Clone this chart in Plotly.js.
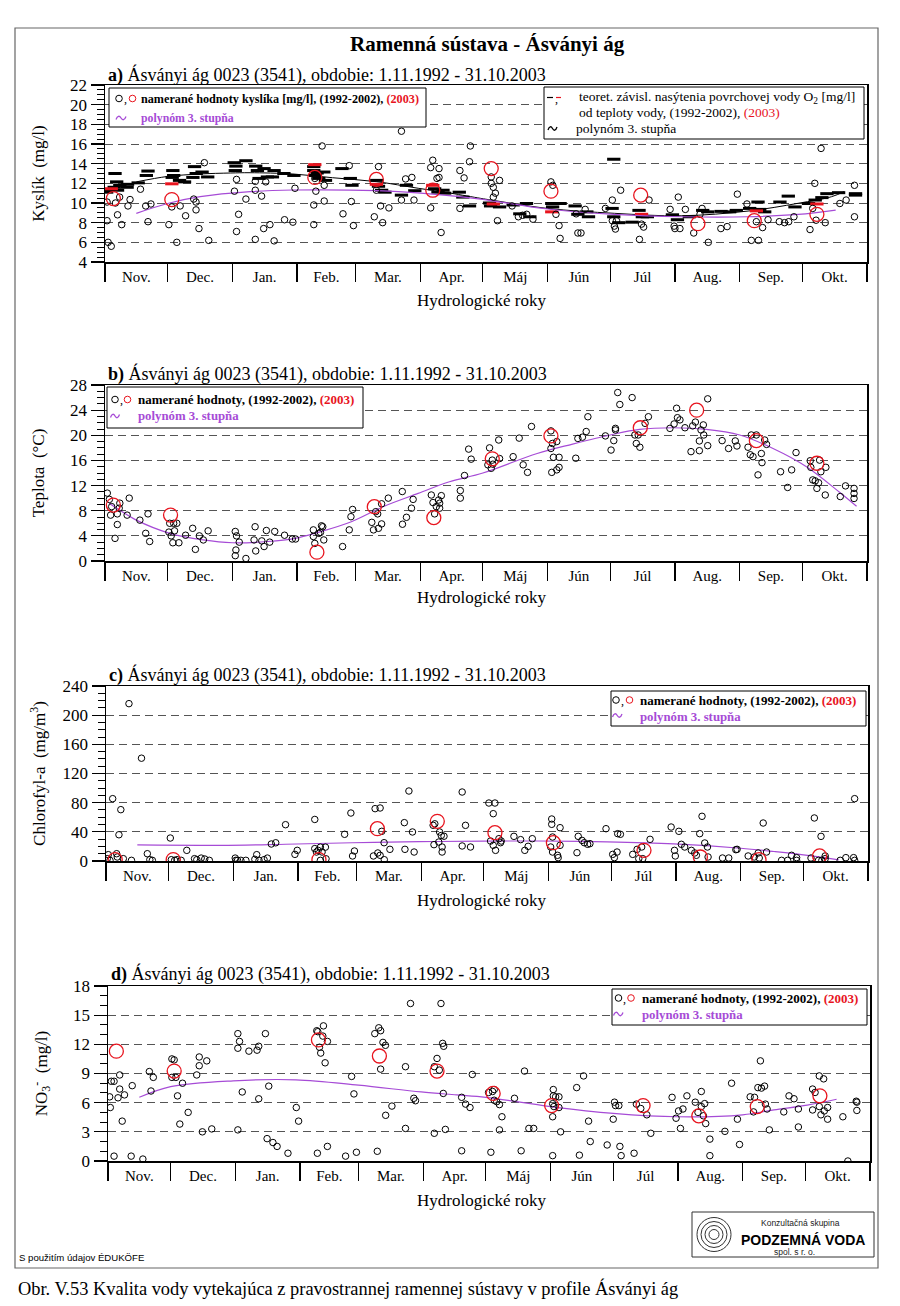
<!DOCTYPE html>
<html><head><meta charset="utf-8">
<script src="https://cdn.plot.ly/plotly-3.0.1.min.js"></script>
<style>html,body{margin:0;padding:0;background:#fff}</style>
</head><body><div id="chart" style="width:900px;height:1306px"></div>
<script>
// ---------- DATA ----------
const monthLabels = ['Nov.','Dec.','Jan.','Feb.','Mar.','Apr.','Máj','Jún','Júl','Aug.','Sep.','Okt.'];
const monthStart = [0,30,61,92,120,151,181,212,242,273,304,334,365];

// a) Kyslík  [day of hydrological year, mg/l]
const oxyMeasured = [[1,8.2],[1.5,6.0],[3,5.6],[1,10.1],[5,10.0],[6,8.8],[7,10.6],[8,7.8],[11,9.7],[12,10.35],[17,11.4],[19.5,9.7],[20.6,8.1],[22,9.9],[30.6,7.8],[32,9.6],[34.4,6.0],[36,9.7],[38.6,8.7],[42.5,10.4],[43.6,9.3],[43.6,10.1],[45,7.4],[47.6,14.1],[49.7,6.2],[62,11.2],[63,7.1],[63,12.4],[64,8.85],[67.5,10.4],[72,11.3],[72,12.2],[72,6.3],[75,10.7],[76,7.4],[77,12.15],[79,7.8],[81,6.15],[86,8.3],[90,8.05],[91,11.5],[100,7.8],[100,9.8],[101,11.2],[100.5,12.5],[104,15.8],[105,11.8],[105,10.2],[114,8.9],[117,13.8],[118,10.15],[119,7.7],[129,8.6],[130,11.3],[131,13.7],[132,9.7],[133,8.0],[136,9.5],[142,17.3],[142,10.3],[144,12.45],[147,12.6],[148,10.3],[156,9.5],[157,14.35],[156,13.6],[159,12.5],[160,13.5],[160,12.6],[161,7.0],[170,13.3],[172,12.55],[174.6,14.2],[175,15.8],[170,9.45],[185,12.65],[185,12.0],[186,11.6],[187,11.0],[186,10.6],[189,12.3],[188,8.2],[195,9.7],[198,8.6],[200,8.75],[202,8.85],[205,8.35],[213.6,12.15],[214.5,11.8],[216,8.85],[217.5,7.7],[218,6.4],[225.7,8.9],[226.5,6.95],[228,6.95],[230,9.35],[239.7,9.45],[243,10.3],[243,8.2],[244,7.65],[244.5,7.35],[247,11.3],[245,8.2],[256,6.3],[257,7.85],[258,7.55],[260.6,10.3],[270.7,9.35],[272.6,7.65],[273,7.4],[275.4,7.4],[274.6,10.6],[278,9.35],[282,6.95],[285,8.85],[286,9.45],[289,6.0],[295,7.4],[298,7.6],[302.9,10.9],[307.5,9.9],[309.6,6.2],[313,6.2],[312,8.1],[315,7.5],[317.6,8.3],[323,8.1],[325.5,8.0],[327.5,8.1],[330,8.6],[337.7,7.3],[339,9.45],[340,12.0],[340.6,8.25],[343,15.55],[345,8.0],[352,9.95],[355,10.3],[359,11.8],[359,8.6]];
const oxyMeasured2003 = [[4,10.45],[32,10.35],[100.5,12.6],[130,12.4],[157,11.3],[185,13.5],[213.6,11.2],[256.6,10.8],[284,7.9],[311,8.2],[341,8.85]];
const oxySaturation = [[0.8,11.1],[1.6,11.35],[4.4,11.6],[4.8,13.0],[5.6,12.15],[6,11.3],[7.1,11.8],[10.8,11.9],[10.6,11.6],[15.9,12.05],[19.8,12.8],[20.6,13.25],[32.5,13.3],[32.9,12.8],[32.2,12.6],[35.7,12.3],[38.1,12.15],[42.9,13.7],[43.7,13.0],[42.1,12.6],[46.5,13.15],[49.2,12.65],[61.9,14.1],[62.7,13.75],[62.4,13.3],[67.5,14.3],[72.2,13.75],[73,13.3],[73.8,12.5],[76.2,13.5],[77.8,12.65],[80.2,12.65],[81,13.3],[85.7,13.0],[90.5,12.8],[100,13.7],[100,13.3],[100.8,12.8],[101.6,13.05],[102.4,12.5],[104.8,13.15],[105.6,12.3],[113.5,13.5],[117.5,12.5],[118.3,11.8],[130.2,12.3],[131,11.7],[132.5,11.3],[134.1,11.1],[142,10.8],[144.4,11.8],[148.4,11.25],[157.9,11.45],[159.5,11.1],[161.9,11.3],[162.7,11.0],[169.7,11.1],[171.4,10.6],[174.6,9.7],[184.2,10.0],[184.7,9.7],[189,9.6],[195.5,9.8],[198.7,8.9],[201.9,9.95],[203.5,8.6],[214,9.95],[214.4,9.6],[218,9.95],[225.2,9.7],[226.5,8.85],[230.8,9.1],[231.6,8.6],[242.9,9.45],[243.7,8.6],[243.7,14.45],[246.1,8.0],[252.5,8.05],[255.8,9.25],[257.4,8.6],[259.8,8.6],[271.8,8.8],[274.2,8.3],[279.9,8.6],[286.3,9.25],[288.7,9.1],[295.1,9.15],[299.2,9.1],[302.4,9.25],[308.8,9.45],[312.8,10.1],[313.6,9.35],[316,9.1],[323.3,10.1],[327.3,10.7],[330.5,9.6],[337,9.95],[340.2,10.3],[343.4,10.55],[345.8,10.95],[351.4,11.05],[359.5,10.95],[359.5,10.8]];
const oxySaturation2003 = [[3,11.45],[32,11.95],[100.5,13.9],[130,11.9],[157,11.8],[186,9.9],[214,9.1],[257,8.85],[312,9.2],[341,9.9]];
const oxySatPoly = [[15,12.15],[30,12.7],[45.6,12.95],[60,13.05],[69.5,13.08],[90,12.95],[109,12.57],[130,12.17],[150,11.5],[165.5,11.0],[180,10.47],[185,10.3],[212,9.45],[244,8.95],[276,8.7],[308,9.18],[332,9.97],[348,10.64],[354,11.15]];
const oxyPoly = [[15,8.95],[30,9.95],[45.6,10.64],[69.5,11.15],[90,11.32],[130,11.25],[157,10.9],[180,10.4],[212,9.39],[244,8.84],[276,8.6],[308,8.6],[332,8.84],[350,9.28]];

// b) Teplota [°C]
const tempMeasured = [[1.1,10.8],[2.1,9.8],[3.2,8.65],[2.7,7.3],[4.8,3.6],[5.9,7.5],[5.9,5.8],[6.8,8.4],[7.1,9.2],[10.6,7.3],[11.6,10.0],[16.7,6.5],[19.5,4.4],[20.6,7.5],[21.4,3.1],[30.6,4.6],[31,6.0],[31.7,4.0],[32.9,6.0],[33.3,4.8],[34.4,6.0],[32.5,2.9],[35.4,2.9],[38.6,4.1],[42,5.2],[43.3,1.85],[45.2,4.0],[47.1,3.35],[49.4,4.8],[62.4,4.7],[62.7,1.75],[62.4,0.85],[63,4.0],[64.3,3.0],[67.5,0.4],[71.4,3.35],[71.9,5.45],[72.2,1.6],[75.1,3.2],[76.2,2.3],[77.3,4.85],[78.9,3.0],[81.3,4.7],[86,4.1],[89.7,3.5],[91.3,3.5],[99.8,4.95],[99.8,3.9],[100.5,2.8],[102.4,4.4],[103.2,4.55],[103.7,5.6],[104.3,5.45],[104.8,3.35],[113.8,2.3],[117,4.95],[117.8,7.05],[118.6,8.2],[127.8,6.15],[128.6,4.95],[129.7,7.85],[130.6,7.5],[131,5.2],[132.5,5.9],[132.5,9.1],[135.7,10.0],[142.4,11.05],[142.5,5.85],[144.4,6.95],[146.8,8.4],[147.6,9.8],[156.3,10.5],[157.1,9.3],[157.9,7.5],[158.7,8.65],[159.8,9.7],[160.3,8.4],[161.1,10.4],[160.3,9.2],[170.2,11.2],[170.2,10.0],[172.2,13.6],[174.2,17.8],[175.4,16.2],[184.2,18.0],[183.4,15.3],[185,14.75],[185.5,16.05],[185.8,15.4],[188.6,19.25],[189,16.3],[195.5,16.6],[198.4,19.55],[200.3,15.3],[202.4,14.1],[204.3,21.4],[213.6,20.7],[213.6,17.9],[214.3,18.7],[214.8,16.5],[214,14.1],[216.4,19.0],[216.4,14.5],[217.5,14.9],[217.5,16.5],[225.5,16.35],[226.5,19.5],[228.7,19.7],[230.5,20.6],[231.3,22.95],[239.7,19.9],[242.4,17.65],[243.7,19.15],[244.5,20.85],[244.5,21.1],[245.6,26.8],[246.6,24.9],[252.5,26.0],[253.8,20.05],[254.5,18.7],[255.4,20.05],[256.2,18.1],[258.7,21.9],[260.3,22.95],[270.6,21.1],[272.6,21.8],[273.8,24.3],[274.2,22.8],[275.4,22.45],[277.8,21.2],[280.7,17.4],[281.5,21.5],[282.8,22.1],[284.7,19.1],[284.7,17.55],[285.5,20.85],[286.6,21.65],[286.8,20.05],[288.7,25.8],[288.7,18.35],[295.6,19.15],[298.7,17.9],[301.9,19.1],[302.7,18.3],[308,18.1],[309.1,16.9],[310.4,16.6],[309.6,20.05],[312,20.05],[312.8,13.7],[314.4,17.1],[314.7,15.65],[316,19.25],[316.9,18.55],[323.6,14.2],[327,11.7],[328.9,14.5],[331,17.25],[337.8,15.95],[338.1,14.9],[339,12.9],[340.2,12.75],[341,11.55],[341.8,12.45],[342.3,16.05],[342.9,14.2],[345,10.5],[345.3,14.9],[352.2,10.25],[354.7,11.95],[358.8,11.55],[358.8,10.75],[358.8,9.95]];
const tempMeasured2003 = [[4,8.9],[31.4,7.3],[101.5,1.4],[129,8.65],[157.5,6.9],[185.5,16.25],[213.6,19.9],[256.4,21.2],[283.4,24.0],[312,19.15],[341,15.55]];
const tempPoly = [[2,9.2],[7,8.1],[15,6.5],[31,4.4],[47,3.35],[61,2.9],[78,3.1],[91,3.6],[102,4.55],[118,6.25],[134,8.75],[150,10.75],[165,12.6],[181,14.0],[207,17.1],[224,18.6],[242,20.05],[256,20.95],[272,21.2],[288,20.95],[304,20.05],[320,17.9],[336,15.0],[352,10.9],[360,8.7]];

// c) Chlorofyl-a [mg/m3]
const chlMeasured = [[1.1,8.7],[0.6,3.2],[1.9,0.9],[3.2,85.5],[5.1,10],[5.4,5.5],[6.2,36],[7.1,70.4],[8.3,3.2],[11,215.8],[12.2,0.9],[17,141],[19.8,10],[21,1.8],[22.2,0.9],[30.8,31.5],[31.3,1.8],[32.9,0.9],[34,1.8],[36,0.9],[38.7,14.6],[42.4,3.2],[43.5,1.8],[45.6,4],[47.3,2.7],[49.5,0.9],[61.9,4],[62.2,0.9],[63,0.9],[64.6,0.9],[67,0.9],[71.3,2.3],[72.2,8.7],[73.3,0.9],[75.7,1.8],[77.3,4],[79.2,23.3],[81.3,25],[86,49.8],[90.5,9.1],[91.6,14.6],[100,57],[100,17],[100.8,12.3],[101.6,14.6],[102.7,19],[103.5,12.3],[105.1,19],[102.7,0.9],[105.4,3],[114.3,36.6],[117.3,65.8],[118.1,6.9],[119,13.7],[128.1,6.9],[128.9,71.8],[131.3,72.7],[130.2,11],[131.3,7.8],[132.1,40.7],[133.2,25.1],[133.3,1.8],[136,16],[142.9,52.6],[145.1,96],[146.8,39.8],[147.6,12.3],[143.2,16],[156.7,49],[157.5,51],[157.1,22.4],[159.4,26],[159.8,39.8],[160.6,35],[161.9,34],[161,19.2],[161,12.3],[170.6,94.6],[172.2,48.9],[170.6,20.6],[174.6,19.2],[183.4,79.5],[186.3,79.5],[185.5,64.9],[184.2,27.4],[185.5,21.5],[186.6,14.6],[188.2,30.6],[189,25.1],[189.3,27.4],[195.4,33.8],[198.6,29.3],[200.6,14.6],[202.2,20.1],[204.2,30.6],[213.5,57.6],[213.5,50.3],[213.9,32.9],[213,19.2],[213.9,12.3],[216.3,7.8],[216.6,4.6],[217.5,45.7],[217.5,21.5],[225.6,11.4],[226.2,33.8],[228,28.3],[229.1,25.1],[230.7,22.9],[231.8,23.8],[239.5,44.3],[242.7,9.1],[243.5,4.6],[244.8,12.3],[245.1,37.5],[246.4,36.6],[252.3,9.1],[254.4,16],[255.2,3.2],[256.6,19.2],[257.1,3.2],[260.6,29.7],[270.7,46.6],[274.4,40.7],[275.6,22.9],[277.2,19.2],[272.3,14.6],[272.7,6.9],[280.4,14.6],[282,11],[282.8,7.8],[284.4,37.5],[285.5,61.3],[286.8,24.7],[288.1,19.2],[288.4,5.5],[295.3,4.1],[298.3,4.1],[301.7,15.5],[302.3,16],[307.6,6.9],[310.5,5.5],[312.4,11],[312.9,4.1],[314.8,52.1],[316.4,12.3],[323.6,0.9],[326.5,0.9],[328.4,7.8],[330.8,4.6],[330.8,0.9],[337.7,4.1],[339.3,59],[342.5,33.8],[341.3,0.9],[342.9,0.9],[344.5,3.2],[344.5,6.9],[351.7,0.9],[354.4,4.6],[358.1,4.6],[358.6,0.9],[358.6,85.5]];
const chlMeasured2003 = [[4.4,2],[32.2,2],[102,2],[130,44.3],[158.7,54.4],[186.3,38.9],[214.3,25.1],[257.7,14.6],[284.7,5.5],[312.8,1.8],[341.8,6.9]];
const chlPoly = [[15,22],[55,21.5],[86,23],[118,25],[150,26.5],[181,27.3],[207,27.4],[240,26.3],[272,23.5],[304,17.5],[320,13],[336,7.8],[351,1.5]];

// d) NO3- [mg/l]
const no3Measured = [[0.8,6.6],[1.1,5.5],[1.6,8.2],[2.9,8.2],[2.9,0.5],[4.8,6.5],[5.6,8.85],[5.6,7.4],[6.8,4.1],[7.9,6.8],[11.1,0.5],[11.6,7.75],[16.7,0.2],[19.8,9.2],[20.6,7.2],[21.7,8.6],[30.6,10.5],[31.7,10.4],[30.6,8.6],[32.5,8.6],[33.3,6.7],[34.4,3.8],[35.7,8.0],[38.4,5.0],[42.5,8.85],[43.7,10.7],[43.7,9.8],[45.2,3.0],[47.3,10.3],[49.7,3.3],[62.2,13.1],[63,12.3],[62.2,11.6],[62.2,3.2],[64.3,7.1],[67.5,11.3],[71.4,11.4],[72.2,11.8],[72.2,6.4],[75.4,13.1],[77,7.7],[76.2,2.3],[79,1.9],[81,1.5],[86.2,0.8],[90.2,5.5],[91.3,4.1],[100,13.4],[100.5,13.3],[101.3,11.7],[101.9,11.1],[102.9,12.85],[103.2,13.9],[104,10.1],[105.1,12.3],[100.3,0.8],[105.1,1.5],[113.8,0.5],[116.7,8.7],[117.8,6.9],[119,0.9],[127.8,13.1],[129.7,13.7],[130.6,13.4],[129,1.0],[130.6,9.45],[131.7,12.2],[132.9,11.9],[133,4.7],[136,5.65],[142.5,9.7],[142.5,3.35],[144.9,16.2],[146.5,6.45],[147.3,6.2],[156.3,9.7],[157.6,10.55],[156.3,2.85],[158.7,9.35],[159.5,16.2],[160.3,12.1],[160.8,11.8],[160.6,6.95],[161.6,3.25],[169.4,6.55],[171.3,5.85],[173.4,5.5],[169.4,1.05],[174.5,8.9],[182.3,7.05],[184.2,7.15],[185,7.35],[185,6.25],[186.2,6.1],[187.5,5.8],[188.7,4.55],[187.5,3.2],[183.4,0.9],[194.7,6.45],[197.9,1.05],[199.5,9.25],[201.6,3.35],[203.9,3.35],[213.3,7.35],[213.3,6.7],[214.4,6.6],[216,6.6],[213.6,5.6],[213,5.9],[216,5.5],[213,4.55],[216.8,3.0],[213,0.55],[224.5,7.55],[225.8,0.6],[227.8,8.75],[230.2,4.1],[231,2.0],[239.1,1.65],[242,4.3],[242.6,6.05],[243.1,5.7],[244.7,5.7],[245.2,1.5],[245.8,0.55],[252,0.8],[253.1,5.85],[255.2,5.4],[258.1,4.75],[260,2.85],[270.2,6.55],[272.1,4.4],[273.3,5.15],[275.4,5.35],[277.3,6.7],[274.2,3.35],[281.3,6.05],[282.6,5.0],[284.2,7.15],[284.2,5.6],[285.2,4.65],[285.8,5.9],[286.3,3.85],[288.3,2.25],[288.3,0.55],[295.5,3.05],[298.7,8.0],[301.5,4.3],[302.5,1.7],[307.6,6.6],[309.7,6.55],[309.2,5.05],[311.3,7.55],[312.5,10.3],[313,7.5],[314.5,7.7],[314.9,5.85],[315.7,5.35],[316.8,3.2],[323.7,5.05],[326.2,6.7],[328.6,6.4],[330.7,5.35],[330.7,3.5],[337.5,7.4],[338.7,7.05],[340.7,8.75],[342.8,8.45],[337.5,5.25],[340.7,5.6],[341.5,4.75],[343.1,5.15],[344.7,5.5],[344.7,4.3],[352,4.55],[354.4,0],[358.4,6.15],[358.7,6.05],[358.7,5.2]];
const no3Measured2003 = [[4,11.3],[31.7,9.25],[100.8,12.45],[130,10.8],[157.6,9.25],[184.5,6.95],[212.5,5.7],[256.3,5.7],[283,4.65],[311,5.6],[341,6.7]];
const no3Poly = [[15,6.55],[30,7.65],[60,8.25],[90,8.35],[120,7.8],[150,7.1],[167,6.8],[181,6.55],[212,5.6],[242,4.9],[273,4.55],[304,4.75],[319,5.25],[335,5.75],[349,6.35]];

// ---------- LAYOUT HELPERS ----------
const W = 900, H = 1306;
const X = v => v / W, Y = v => 1 - v / H;
const SERIF = 'Liberation Serif, Times New Roman, serif';
const SANS = 'Liberation Sans, Arial, sans-serif';
const PURPLE = '#a64bd6';
const RED = '#e8141e';
const xs = a => a.map(p => p[0]);
const ys = a => a.map(p => p[1]);
const monthMid = monthLabels.map((m, i) => (monthStart[i] + monthStart[i + 1]) / 2);

const panels = [
  {box: [105, 867, 85, 262], range: [4, 22], dtick: 2, minor: 0.5, letter: 'a)', ytitle: 'Kyslík  (mg/l)', titleY: 75, hydroY: 300, ystand: 21},
  {box: [105, 867, 385, 561], range: [0, 28], dtick: 4, minor: 1, letter: 'b)', ytitle: 'Teplota  (°C)', titleY: 374, hydroY: 598, ystand: 21},
  {box: [106, 868, 686, 861], range: [0, 240], dtick: 40, minor: 10, letter: 'c)', ytitle: 'Chlorofyl-a  (mg/m<sup>3</sup>)', titleY: 675, hydroY: 900, ystand: 12},
  {box: [108, 870, 986, 1161], range: [0, 18], dtick: 3, minor: 1, letter: 'd)', ytitle: 'NO<sub>3</sub><sup>-</sup>  (mg/l)', titleY: 974, hydroY: 1200, ystand: 21}
];

const layout = {
  width: W, height: H, margin: {l: 0, r: 0, t: 0, b: 0},
  paper_bgcolor: 'white', plot_bgcolor: 'white', showlegend: false,
  shapes: [], annotations: []
};
function txt(x, y, text, o = {}) {
  layout.annotations.push({xref: 'paper', yref: 'paper', x: X(x), y: Y(y), text, showarrow: false,
    xanchor: o.xa || 'left', yanchor: 'middle', textangle: o.angle || 0,
    font: {family: o.family || SERIF, size: o.size || 12, color: o.color || 'black'}});
}
function rect(x0, y0, x1, y1, o = {}) {
  layout.shapes.push({type: o.type || 'rect', xref: 'paper', yref: 'paper', x0: X(x0), x1: X(x1), y0: Y(y0), y1: Y(y1),
    line: {color: o.color || 'black', width: o.width || 1}, fillcolor: o.fill || 'rgba(0,0,0,0)', layer: 'above'});
}
function seg(x0, x1, y, color, w) {
  layout.shapes.push({type: 'line', xref: 'paper', yref: 'paper', x0: X(x0), x1: X(x1), y0: Y(y), y1: Y(y),
    line: {color, width: w}, layer: 'above'});
}
function tilde(x0, x1, y, color) {
  const w = x1 - x0;
  const P = (a, b) => X(a) + ',' + Y(b);
  layout.shapes.push({type: 'path', xref: 'paper', yref: 'paper', layer: 'above', line: {color, width: 1.3},
    path: 'M' + P(x0, y + 1.5) + ' C' + P(x0 + w * 0.15, y - 2.5) + ' ' + P(x0 + w * 0.35, y - 2.5) + ' ' + P(x0 + w * 0.5, y) +
          ' S' + P(x0 + w * 0.85, y + 2.5) + ' ' + P(x1, y - 1.5)});
}
function legendCircles(xBlack, xRed, y) {
  rect(xBlack - 3.3, y - 3.3, xBlack + 3.3, y + 3.3, {type: 'circle', color: 'black', width: 1});
  txt(xBlack + 2.5, y + 1, ',', {size: 12});
  rect(xRed - 3.3, y - 3.3, xRed + 3.3, y + 3.3, {type: 'circle', color: RED, width: 1});
}

const traces = [];
panels.forEach((p, i) => {
  const n = i === 0 ? '' : String(i + 1);
  const [l, r, t, b] = p.box;
  layout['xaxis' + n] = {
    domain: [X(l), X(r)], range: [0, 365], anchor: 'y' + n,
    showline: true, mirror: true, linecolor: 'black', linewidth: 1.5,
    showgrid: false, zeroline: false, fixedrange: true,
    tickmode: 'array', tickvals: monthMid, ticktext: monthLabels, ticks: '',
    tickfont: {family: SERIF, size: 15, color: 'black'},
    minor: {tickmode: 'array', tickvals: monthStart, ticks: 'outside', ticklen: 18, tickwidth: 1.2, tickcolor: 'black', showgrid: false}
  };
  layout['yaxis' + n] = {
    domain: [Y(b), Y(t)], range: p.range, anchor: 'x' + n,
    showline: true, mirror: true, linecolor: 'black', linewidth: 1.5,
    zeroline: false, fixedrange: true,
    tickmode: 'linear', tick0: 0, dtick: p.dtick, ticks: 'outside', ticklen: 13, tickwidth: 1.2, tickcolor: 'black',
    tickfont: {family: SERIF, size: 17, color: 'black'},
    showgrid: true, gridcolor: '#555', gridwidth: 1, griddash: '8px,5px',
    minor: {dtick: p.minor, ticks: 'outside', ticklen: 7, tickwidth: 1, tickcolor: 'black', showgrid: false},
    title: {text: p.ytitle, font: {family: SERIF, size: 17, color: 'black'}, standoff: p.ystand}
  };
  txt(l + 1, p.titleY, '<b>' + p.letter + '</b> Ásványi ág 0023 (3541), obdobie: 1.11.1992 - 31.10.2003', {size: 18});
  txt(481, p.hydroY, 'Hydrologické roky', {xa: 'center', size: 17});
});

function scatter(arr, ax, o) {
  traces.push({type: 'scatter', mode: 'markers', x: xs(arr), y: ys(arr), xaxis: 'x' + ax, yaxis: 'y' + ax,
    hoverinfo: 'skip', cliponaxis: true,
    marker: {symbol: o.symbol || 'circle-open', size: o.size, color: o.color, line: {color: o.color, width: o.lw}}});
}
function curve(arr, ax, color, w) {
  traces.push({type: 'scatter', mode: 'lines', x: xs(arr), y: ys(arr), xaxis: 'x' + ax, yaxis: 'y' + ax,
    hoverinfo: 'skip', line: {color, width: w, shape: 'spline', smoothing: 1}});
}

// panel a
curve(oxySatPoly, '', 'black', 1);
scatter(oxySaturation, '', {symbol: 'line-ew', size: 9.5, color: 'black', lw: 3});
scatter(oxySaturation2003, '', {symbol: 'line-ew', size: 9.5, color: RED, lw: 3});
curve(oxyPoly, '', PURPLE, 1.2);
scatter(oxyMeasured, '', {size: 6.5, color: 'black', lw: 1});
scatter(oxyMeasured2003, '', {size: 14, color: RED, lw: 1.3});
// panel b
curve(tempPoly, '2', PURPLE, 1.2);
scatter(tempMeasured, '2', {size: 6.5, color: 'black', lw: 1});
scatter(tempMeasured2003, '2', {size: 14, color: RED, lw: 1.3});
// panel c
curve(chlPoly, '3', PURPLE, 1.2);
scatter(chlMeasured, '3', {size: 6.5, color: 'black', lw: 1});
scatter(chlMeasured2003, '3', {size: 14, color: RED, lw: 1.3});
// panel d
curve(no3Poly, '4', PURPLE, 1.2);
scatter(no3Measured, '4', {size: 6.5, color: 'black', lw: 1});
scatter(no3Measured2003, '4', {size: 14, color: RED, lw: 1.3});

// ---------- legends ----------
const red2003 = '<span style="color:' + RED + '">(2003)</span>';
// a left
rect(109, 88, 426, 127, {fill: 'white'});
legendCircles(119, 132.5, 98.5);
txt(139, 98.5, '<b>namerané hodnoty kyslíka [mg/l], (1992-2002), ' + red2003 + '</b>', {size: 12.2});
tilde(116, 126, 118, PURPLE);
txt(139, 118, '<b>polynóm 3. stupňa</b>', {size: 11.8, color: PURPLE});
// a right
rect(544, 87, 864, 139, {fill: 'white'});
seg(547, 553, 97.5, 'black', 1.2);
txt(552.5, 99, ',', {size: 12});
seg(556, 561, 97.5, RED, 1.2);
txt(577, 97.5, 'teoret. závisl. nasýtenia povrchovej vody O<sub>2</sub> [mg/l]', {size: 13.5});
txt(577, 112.5, 'od teploty vody, (1992-2002), ' + red2003, {size: 13.5});
tilde(548, 557, 128.5, 'black');
txt(574, 128.5, 'polynóm 3. stupňa', {size: 13.5});
// b
rect(107, 387, 363, 428, {fill: 'white'});
legendCircles(115, 127.5, 399.5);
txt(136, 399.5, '<b>namerané hodnoty, (1992-2002), ' + red2003 + '</b>', {size: 13});
tilde(110.5, 119.5, 416, PURPLE);
txt(136, 416, '<b>polynóm 3. stupňa</b>', {size: 12.8, color: PURPLE});
// c
rect(611, 691, 866, 726, {fill: 'white'});
legendCircles(616, 629.5, 700);
txt(638, 700, '<b>namerané hodnoty, (1992-2002), ' + red2003 + '</b>', {size: 13});
tilde(612.5, 622, 715.5, PURPLE);
txt(638, 716.5, '<b>polynóm 3. stupňa</b>', {size: 12.8, color: PURPLE});
// d
rect(612, 989, 867, 1025, {fill: 'white'});
legendCircles(618.5, 631, 998);
txt(640, 998, '<b>namerané hodnoty, (1992-2002), ' + red2003 + '</b>', {size: 13});
tilde(613.5, 623, 1014, PURPLE);
txt(640, 1014.5, '<b>polynóm 3. stupňa</b>', {size: 12.8, color: PURPLE});

// ---------- page decoration ----------
rect(15, 28, 878, 1268, {color: '#666', width: 1.2});
txt(487, 44, '<b>Ramenná sústava - Ásványi ág</b>', {xa: 'center', size: 21});
txt(17, 1257, 'S použitím údajov ÉDUKÖFE', {size: 9.6, family: SANS});
txt(16, 1288, 'Obr. V.53 Kvalita vody vytekajúca z pravostrannej ramennej sústavy v profile Ásványi ág', {size: 18.4});
// logo
rect(692, 1212, 874, 1257, {color: '#333', width: 1});
[17, 13, 9, 5].forEach(rr => rect(714 - rr, 1234.5 - rr, 714 + rr, 1234.5 + rr, {type: 'circle', color: '#333', width: 1}));
txt(800, 1223, 'Konzultačná skupina', {xa: 'center', size: 8.5, family: SANS, color: '#222'});
txt(803, 1239.5, '<b>PODZEMNÁ VODA</b>', {xa: 'center', size: 14, family: SANS});
txt(794, 1252, 'spol. s r. o.', {xa: 'center', size: 8.5, family: SANS, color: '#222'});

Plotly.newPlot('chart', traces, layout, {staticPlot: true, displayModeBar: false});
</script></body></html>
